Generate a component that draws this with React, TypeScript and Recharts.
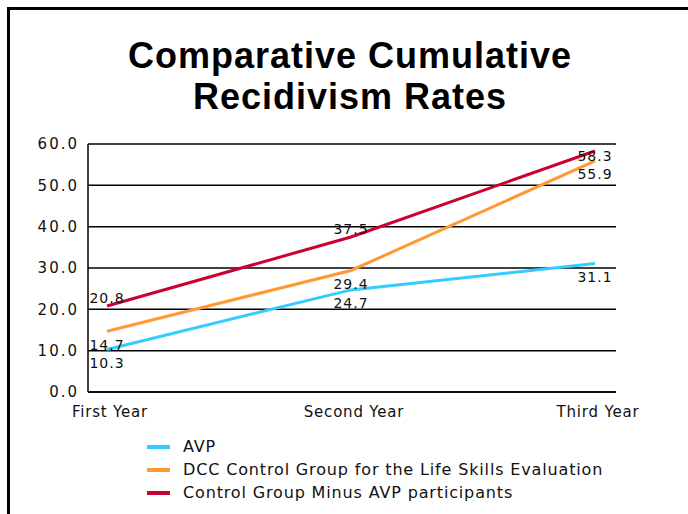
import React from 'react';
import { LineChart, Line, XAxis, YAxis, CartesianGrid, Legend, LabelList } from 'recharts';

const categories = ['First Year', 'Second Year', 'Third Year'];
const avp = [10.3, 24.7, 31.1];
const dcc = [14.7, 29.4, 55.9];
const controlMinus = [20.8, 37.5, 58.3];
const yTicks = [0, 10, 20, 30, 40, 50, 60];
const seriesNames = [
  'AVP',
  'DCC Control Group for the Life Skills Evaluation',
  'Control Group Minus AVP participants',
];
const titleLines = ['Comparative Cumulative', 'Recidivism Rates'];

const COLORS = ['#33CCFF', '#FF9933', '#CC0033'];
const FONT = '"DejaVu Sans", Verdana, sans-serif';

const data = categories.map((c, i) => ({
  year: c,
  avp: avp[i],
  dcc: dcc[i],
  ctrl: controlMinus[i],
}));

const makeLabel = (placement: 'above' | 'below') => (props: any) => {
  const x = props.x ?? props.viewBox?.x;
  const y = props.y ?? props.viewBox?.y;
  const { value, index } = props;
  let dy = 18.5;
  if (placement === 'above') {
    dy = index === categories.length - 1 ? 10 : -3;
  }
  return (
    <text
      x={x}
      y={y}
      dy={dy}
      textAnchor="middle"
      fill="#111"
      style={{ fontFamily: FONT, fontSize: 14, letterSpacing: 1 }}
    >
      {Number(value).toFixed(1)}
    </text>
  );
};

const renderLegend = (props: any) => {
  const payload = [...(props.payload || [])].sort(
    (a: any, b: any) => seriesNames.indexOf(a.value) - seriesNames.indexOf(b.value)
  );
  return (
    <div style={{ display: 'flex', flexDirection: 'column' }}>
      {payload.map((entry: any) => (
        <div key={entry.value} style={{ display: 'flex', alignItems: 'center', height: 23 }}>
          <span
            style={{
              display: 'inline-block',
              width: 23,
              height: 4,
              background: entry.color,
              marginRight: 13,
            }}
          />
          <span
            style={{
              fontFamily: FONT,
              fontSize: 16,
              letterSpacing: 0.85,
              color: '#111',
              whiteSpace: 'nowrap',
              lineHeight: '23px',
            }}
          >
            {entry.value}
          </span>
        </div>
      ))}
    </div>
  );
};

export default function App() {
  return (
    <div
      style={{
        position: 'absolute',
        left: 0,
        top: 0,
        width: 688,
        height: 514,
        background: '#fff',
        overflow: 'hidden',
      }}
    >
      <div
        style={{
          position: 'absolute',
          left: 7,
          top: 7,
          width: 800,
          height: 600,
          borderLeft: '3px solid #000',
          borderTop: '3px solid #000',
        }}
      />
      <div
        style={{
          position: 'absolute',
          left: 0,
          top: 35,
          width: 700,
          textAlign: 'center',
          fontFamily: '"Liberation Sans", Arial, sans-serif',
          fontWeight: 'bold',
          fontSize: 36,
          lineHeight: '41px',
          letterSpacing: 1,
          color: '#000',
        }}
      >
        {titleLines.map((t) => (
          <div key={t}>{t}</div>
        ))}
      </div>
      <div style={{ position: 'absolute', left: 0, top: 0 }}>
        <LineChart
          width={688}
          height={514}
          data={data}
          margin={{ top: 144, right: 72, bottom: 92, left: 8 }}
        >
          <CartesianGrid yAxisId="l" vertical={false} stroke="#000" strokeWidth={1.5} />
          <XAxis
            dataKey="year"
            type="category"
            padding={{ left: 19, right: 21 }}
            axisLine={{ stroke: '#000', strokeWidth: 1.5 }}
            tickLine={false}
            tickSize={0}
            tickMargin={14}
            height={30}
            interval={0}
            tick={{ fill: '#111', fontFamily: FONT, fontSize: 15, letterSpacing: 0.8, dx: 3 }}
          />
          <YAxis
            yAxisId="l"
            domain={[0, 60]}
            ticks={yTicks}
            width={80}
            axisLine={{ stroke: '#000', strokeWidth: 1.5 }}
            tickLine={false}
            tickSize={0}
            tickMargin={9}
            tickFormatter={(v: number) => v.toFixed(1)}
            tick={{ fill: '#111', fontFamily: FONT, fontSize: 15, letterSpacing: 2 }}
          />
          <YAxis
            yAxisId="r"
            orientation="right"
            domain={[0, 60]}
            width={0}
            tick={false}
            tickLine={false}
            axisLine={{ stroke: '#000', strokeWidth: 1.5 }}
          />
          <Legend
            layout="vertical"
            align="center"
            verticalAlign="middle"
            content={renderLegend}
            wrapperStyle={{ top: 435, left: 147, width: 500, height: 75 }}
          />
          <Line
            yAxisId="l"
            type="linear"
            dataKey="avp"
            name={seriesNames[0]}
            stroke={COLORS[0]}
            strokeWidth={3}
            dot={false}
            activeDot={false}
            isAnimationActive={false}
          >
            <LabelList dataKey="avp" content={makeLabel('below')} />
          </Line>
          <Line
            yAxisId="l"
            type="linear"
            dataKey="dcc"
            name={seriesNames[1]}
            stroke={COLORS[1]}
            strokeWidth={3}
            dot={false}
            activeDot={false}
            isAnimationActive={false}
          >
            <LabelList dataKey="dcc" content={makeLabel('below')} />
          </Line>
          <Line
            yAxisId="l"
            type="linear"
            dataKey="ctrl"
            name={seriesNames[2]}
            stroke={COLORS[2]}
            strokeWidth={3}
            dot={false}
            activeDot={false}
            isAnimationActive={false}
          >
            <LabelList dataKey="ctrl" content={makeLabel('above')} />
          </Line>
        </LineChart>
      </div>
    </div>
  );
}
